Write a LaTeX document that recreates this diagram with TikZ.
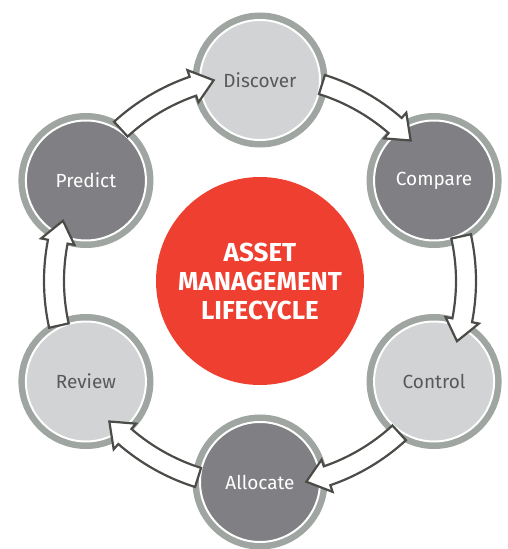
\documentclass[tikz,border=0pt]{standalone}
\usepackage{fontspec}
\setmainfont{Fira Sans}
\definecolor{ringgray}{HTML}{9FA5A1}
\definecolor{lightfill}{HTML}{D2D3D5}
\definecolor{darkfill}{HTML}{808084}
\definecolor{lighttext}{HTML}{58595B}
\definecolor{outline}{HTML}{4B4C48}
\definecolor{hubred}{HTML}{EE3F31}
\tikzset{
  stage/.style={circle, minimum size=120pt, inner sep=0pt, draw=white, line width=2pt,
    preaction={draw=ringgray, line width=15pt}, font=\fontsize{19}{21}\selectfont},
  light/.style={stage, fill=lightfill, text=lighttext},
  dark/.style={stage, fill=darkfill, text=white},
  cyc/.style={fill=white, draw=outline, line width=2.2pt}
}
\begin{document}
\begin{tikzpicture}[x=1pt,y=1pt]
            \useasboundingbox (-260,-268) rectangle (247,281);
            \node [circle, fill=hubred, minimum size=208pt, inner sep=0pt, text=white, align=center,
              font=\fontsize{26}{29}\selectfont\bfseries] (hub) at (0,0) {ASSET\\MANAGEMENT\\LIFECYCLE};
            \node [light] (disc) at (90:201) {Discover};
            \node [dark] (comp) at (30:201) {Compare};
            \node [light] (ctrl) at (-30:201) {Control};
            \node [dark] (alloc) at (-90:201) {Allocate};
            \node [light] (rev) at (-150:201) {Review};
            \node [dark] (pred) at (150:201) {Predict};
            \foreach \a in {150,90,30,-30,-90,-150}
              \draw [cyc] (\a-17.5:216) arc [start angle=\a-17.5, end angle=\a-41, radius=216]
                -- (\a-41:223) -- (\a-47:206) -- (\a-41:189) -- (\a-41:196)
                arc [start angle=\a-41, end angle=\a-17.5, radius=196] -- cycle;
        \end{tikzpicture}
\end{document}
